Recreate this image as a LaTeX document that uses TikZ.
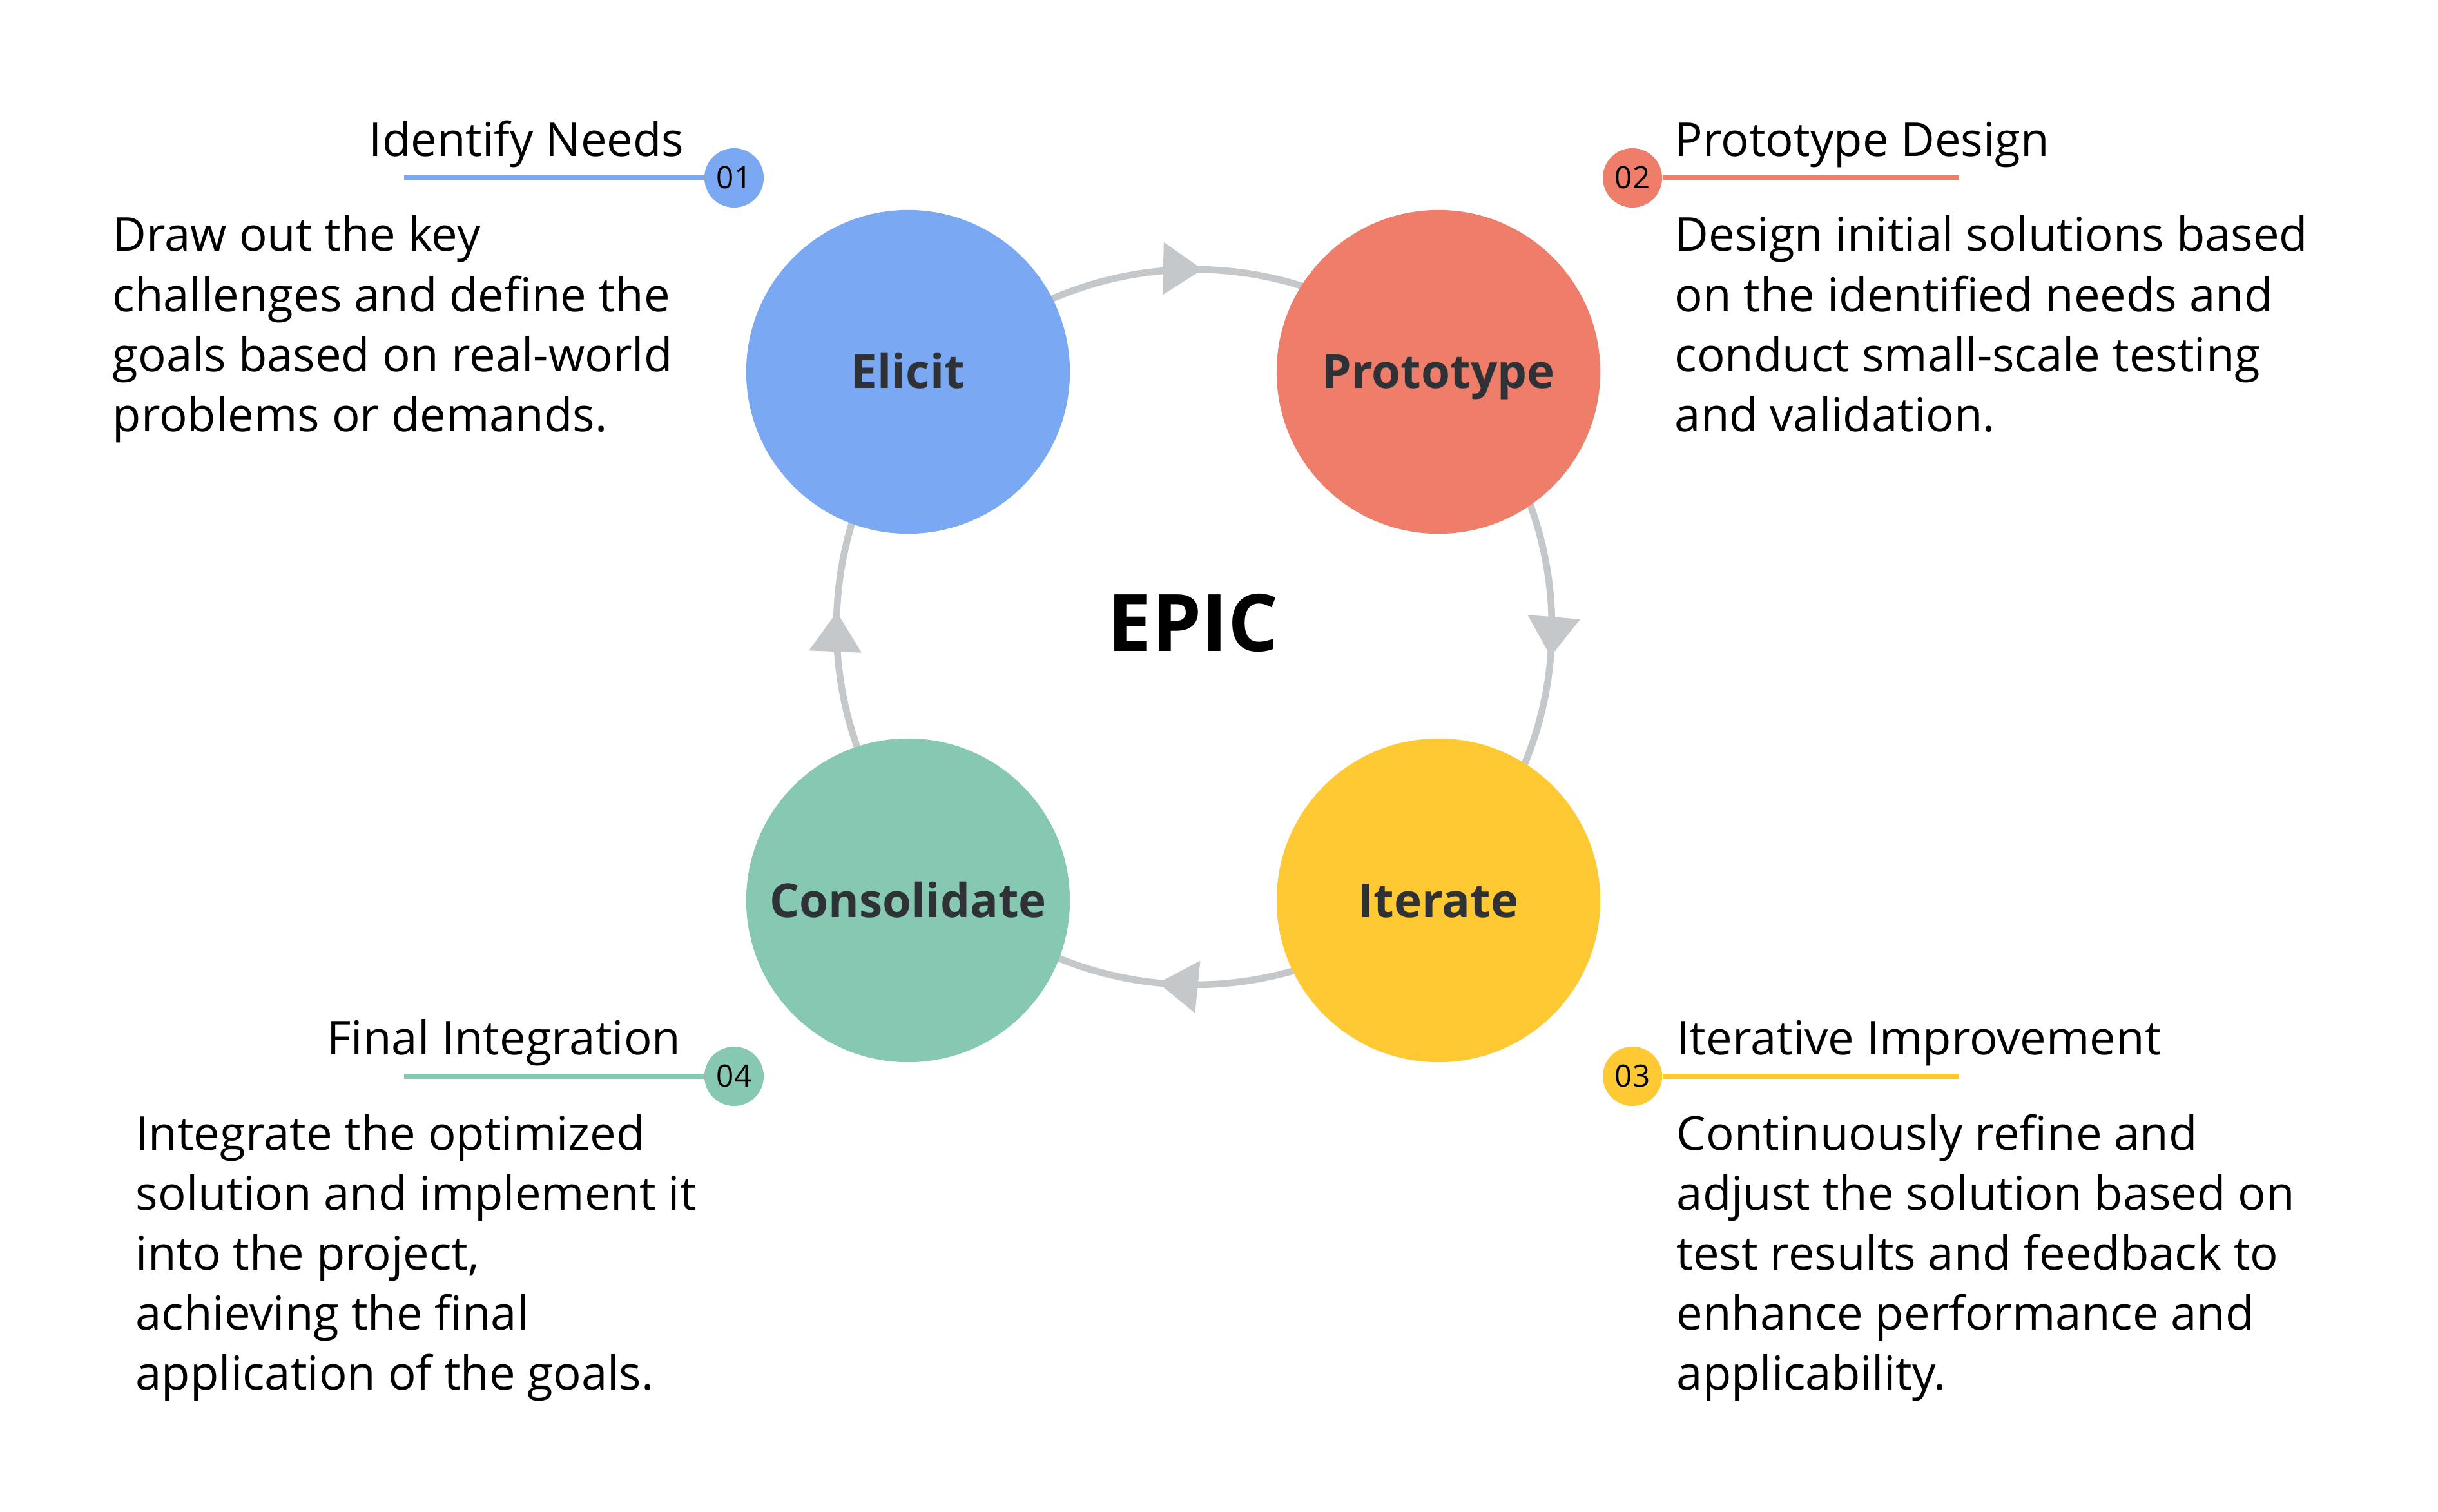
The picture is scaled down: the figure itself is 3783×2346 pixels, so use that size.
\documentclass[tikz,border=0pt]{standalone}
\usepackage{fontspec}
\setmainfont{Open Sans}
\usetikzlibrary{arrows.meta,decorations.markings,calc}
\definecolor{cblue}{HTML}{7BA8F2}
\definecolor{cred}{HTML}{EE7E6A}
\definecolor{cyellow}{HTML}{FFC933}
\definecolor{cgreen}{HTML}{86C8B1}
\definecolor{ringgray}{HTML}{C5C8CB}
\definecolor{lbltext}{HTML}{2E3236}
\begin{document}
\begin{tikzpicture}[x=0.01cm,y=-0.01cm,
  stage/.style={circle,minimum size=5.02cm,inner sep=0pt},
  stagelabel/.style={anchor=base,inner sep=0pt,text=lbltext,font=\fontsize{20.7}{24}\selectfont\bfseries},
  badge/.style={circle,minimum size=0.92cm,inner sep=0pt,font=\fontsize{13.5}{16}\selectfont},
  headline/.style={inner sep=0pt,font=\fontsize{20.6}{26.46}\selectfont},
  bodytext/.style={inner sep=0pt,anchor=base west,font=\fontsize{20.6}{26.46}\selectfont},
  ringline/.style={draw,color=ringgray,line width=3pt},
  arrowmark/.style={postaction={decorate},decoration={markings,mark=at position 0.54 with {\arrow{Triangle[length=17.5pt,width=22.5pt]}}}},
  lead/.style={line width=2pt}
]
\fill[white] (0,0) rectangle (3783,2346);
\useasboundingbox (0,0) rectangle (3783,2346);

% ring
\coordinate (ring) at (1853,973);
\draw[ringline,arrowmark] (ring) ++(221.7:555) arc[start angle=221.7,end angle=313.7,radius=555];
\draw[ringline,arrowmark] (ring) ++(313.7:555) arc[start angle=313.7,end angle=408.2,radius=555];
\draw[ringline,arrowmark] (ring) ++(48.2:555) arc[start angle=48.2,end angle=136.3,radius=555];
\draw[ringline,arrowmark] (ring) ++(136.3:555) arc[start angle=136.3,end angle=221.7,radius=555];

% stages
\node[stage,fill=cblue] (e) at (1409,577) {};
\node[stage,fill=cred] (p) at (2232,577) {};
\node[stage,fill=cyellow] (it) at (2232,1397) {};
\node[stage,fill=cgreen] (c) at (1409,1397) {};
\node[stagelabel] (el) at ($(e)+(0,26)$) {Elicit};
\node[stagelabel] (pl) at ($(p)+(0,26)$) {Prototype};
\node[stagelabel] (il) at ($(it)+(0,26)$) {Iterate};
\node[stagelabel] (cl) at ($(c)+(0,26)$) {Consolidate};

\node[anchor=base,inner sep=0pt,font=\fontsize{35}{40}\selectfont\bfseries] (epic) at (1851,1011) {EPIC};

% leads and badges
\coordinate (l1) at (627,276);
\coordinate (l2) at (3040,276);
\coordinate (l3) at (3040,1670);
\coordinate (l4) at (627,1670);
\node[badge,fill=cblue] (b1) at (1139,276) {01};
\node[badge,fill=cred] (b2) at (2533,276) {02};
\node[badge,fill=cyellow] (b3) at (2533,1670) {03};
\node[badge,fill=cgreen] (b4) at (1139,1670) {04};
\draw[lead,cblue] (l1) -- (b1.west);
\draw[lead,cred] (b2.east) -- (l2);
\draw[lead,cyellow] (b3.east) -- (l3);
\draw[lead,cgreen] (l4) -- (b4.west);

% titles
\node[headline,anchor=base east] (t1) at (1062,243) {Identify Needs};
\node[headline,anchor=base west] (t2) at (2598,243) {Prototype Design};
\node[headline,anchor=base west] (t3) at (2601,1636) {Iterative Improvement};
\node[headline,anchor=base east] (t4) at (1057,1636) {Final Integration};

% bodies
\node[bodytext] (d1) at (174,390) {\vtop{\hbox{Draw out the key}\hbox{challenges and define the}\hbox{goals based on real-world}\hbox{problems or demands.}}};
\node[bodytext] (d2) at (2598,390) {\vtop{\hbox{Design initial solutions based}\hbox{on the identified needs and}\hbox{conduct small-scale testing}\hbox{and validation.}}};
\node[bodytext] (d3) at (2601,1784) {\vtop{\hbox{Continuously refine and}\hbox{adjust the solution based on}\hbox{test results and feedback to}\hbox{enhance performance and}\hbox{applicability.}}};
\node[bodytext] (d4) at (210,1784) {\vtop{\hbox{Integrate the optimized}\hbox{solution and implement it}\hbox{into the project,}\hbox{achieving the final}\hbox{application of the goals.}}};
\end{tikzpicture}
\end{document}
